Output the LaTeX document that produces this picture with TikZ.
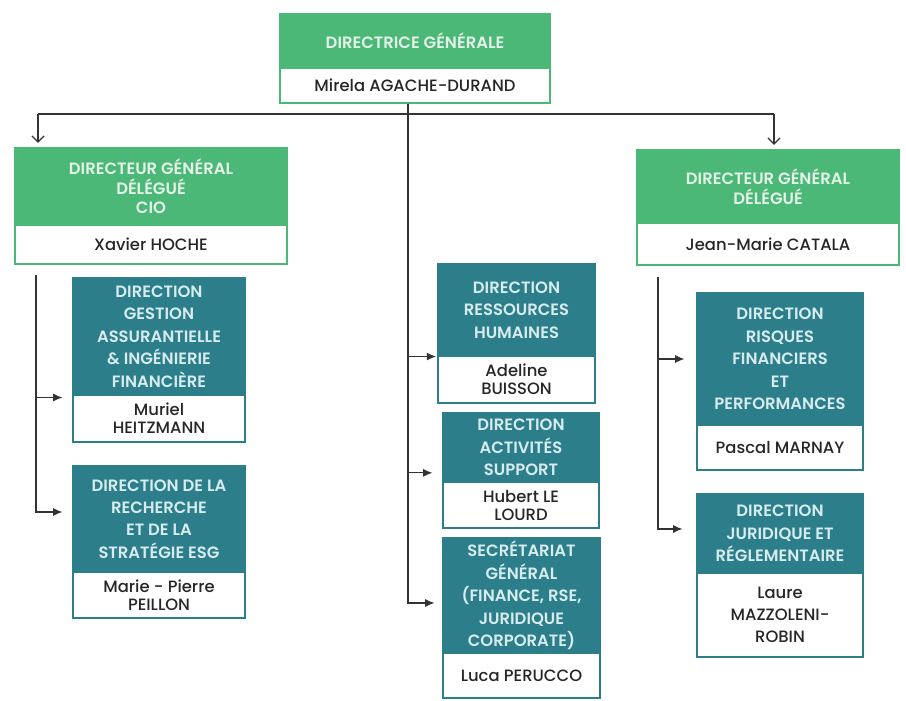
\documentclass[tikz,border=0pt]{standalone}
\usepackage{fontspec}
\setmainfont{Poppins}
\newfontfamily\hdrfont{Poppins SemiBold}
\newfontfamily\nmfont{Poppins Medium}
\usetikzlibrary{arrows.meta}
\definecolor{dg}{HTML}{4CB877}
\definecolor{tl}{HTML}{2C7E8A}
\definecolor{hg}{HTML}{E4F3E8}
\definecolor{ht}{HTML}{D6ECEE}
\definecolor{lc}{HTML}{333333}
\definecolor{nm}{HTML}{262626}
\tikzset{
  hdrbox/.style={align=center, inner sep=0pt, line width=0.8pt},
  ghdr/.style={hdrbox, fill=dg, draw=dg, text=hg, font=\hdrfont\fontsize{12.3}{14.6}\selectfont},
  thdr/.style={hdrbox, fill=tl, draw=tl, text=ht, font=\hdrfont\fontsize{12.3}{16.8}\selectfont},
  gname/.style={hdrbox, fill=white, draw=dg, text=nm, font=\nmfont\fontsize{12.3}{13.5}\selectfont},
  tname/.style={hdrbox, fill=white, draw=tl, text=nm, font=\nmfont\fontsize{12.3}{13.5}\selectfont},
  conn/.style={draw=lc, line width=0.9pt},
  arr/.style={conn, -{Latex[length=7pt,width=6pt]}},
  darr/.style={conn, -{Straight Barb[length=4.5pt,width=9pt]}, shorten >=3.5pt},
}
\begin{document}
\begin{tikzpicture}[x=0.75pt,y=-0.75pt]
\useasboundingbox[fill=white] (0,0) rectangle (906,700);
% top
\node[ghdr, minimum width=202.5pt, minimum height=40.5pt] (topH) at (415,41) {DIRECTRICE GÉNÉRALE};
\node[gname, minimum width=202.5pt, minimum height=26.25pt] (topN) at (415,85.5) {Mirela AGACHE-DURAND};
% left DG
\node[ghdr, minimum width=204pt, minimum height=57.75pt] (dgLH) at (151,186.5) {DIRECTEUR GÉNÉRAL\\DÉLÉGUÉ\\CIO};
\node[gname, minimum width=204pt, minimum height=29.25pt] (dgLN) at (151,244.5) {Xavier HOCHE};
% right DG
\node[ghdr, minimum width=196.5pt, minimum height=54.75pt] (dgRH) at (768,186.5) {DIRECTEUR GÉNÉRAL\\DÉLÉGUÉ};
\node[gname, minimum width=196.5pt, minimum height=31.5pt] (dgRN) at (768,244) {Jean-Marie CATALA};
% left column
\node[thdr, minimum width=129pt, minimum height=87.75pt] (gestH) at (159,336.5) {DIRECTION\\GESTION\\ASSURANTIELLE\\\& INGÉNIERIE\\FINANCIÈRE};
\node[tname, minimum width=129pt, minimum height=35.25pt] (gestN) at (159,418.5) {Muriel\\HEITZMANN};
\node[thdr, minimum width=129pt, minimum height=79.5pt] (rechH) at (159,519) {DIRECTION DE LA\\RECHERCHE\\ET DE LA\\STRATÉGIE ESG};
\node[tname, minimum width=129pt, minimum height=34.5pt] (rechN) at (159,595) {Marie - Pierre\\PEILLON};
% middle column
\node[thdr, minimum width=117.75pt, minimum height=69pt] (rhH) at (516.5,310) {DIRECTION\\RESSOURCES\\HUMAINES};
\node[tname, minimum width=117.75pt, minimum height=35.25pt] (rhN) at (516.5,379.5) {Adeline\\BUISSON};
\node[thdr, minimum width=117pt, minimum height=51.75pt] (actH) at (521,447.5) {DIRECTION\\ACTIVITÉS\\SUPPORT};
\node[tname, minimum width=117pt, minimum height=34.5pt] (actN) at (521,505) {Hubert LE\\LOURD};
\node[thdr, minimum width=117.75pt, minimum height=86.25pt] (secH) at (521.5,595.5) {SECRÉTARIAT\\GÉNÉRAL\\(FINANCE, RSE,\\JURIDIQUE\\CORPORATE)};
\node[tname, minimum width=117.75pt, minimum height=33.75pt] (secN) at (521.5,675.5) {Luca PERUCCO};
% right column
\node[thdr, minimum width=124.5pt, minimum height=99pt] (risH) at (780,359) {DIRECTION\\RISQUES\\FINANCIERS\\ET\\PERFORMANCES};
\node[tname, minimum width=124.5pt, minimum height=33.75pt] (risN) at (780,447.5) {Pascal MARNAY};
\node[thdr, minimum width=124.5pt, minimum height=59.25pt] (jurH) at (780,533.5) {DIRECTION\\JURIDIQUE ET\\RÉGLEMENTAIRE};
\node[tname, minimum width=124.5pt, minimum height=63pt, font=\nmfont\fontsize{12.3}{16.5}\selectfont] (jurN) at (780,615) {Laure\\MAZZOLENI-\\ROBIN};
% connectors top
\coordinate (jL) at (38,114);
\coordinate (jR) at (774,114);
\coordinate (jM) at (408,114);
\draw[conn] (jL) -- (jR);
\draw[darr] (jL) -- (jL |- dgLH.north);
\draw[darr] (jR) -- (jR |- dgRH.north);
% middle trunk
\draw[conn] (topN.south -| jM) -- (jM);
\draw[arr, shorten >=1pt] (topN.south -| jM) |- (rhH.south west);
\draw[arr, shorten >=7.5pt] (topN.south -| jM) |- ([yshift=-19pt]actH.west);
\draw[arr, shorten >=6pt] (topN.south -| jM) |- ([yshift=-5.6pt]secH.west);
% left trunk
\coordinate (lTop) at (36,275);
\draw[arr, shorten >=7.5pt] (lTop) |- ([yshift=-1.5pt]gestH.south west);
\draw[arr, shorten >=7.5pt] (lTop) |- ([yshift=5.25pt]rechH.west);
% right trunk
\coordinate (rTop) at (658,277);
\draw[arr, shorten >=9pt] (rTop) |- (risH.west);
\draw[arr, shorten >=10.5pt] (rTop) |- ([yshift=3.4pt]jurH.west);
\end{tikzpicture}
\end{document}
